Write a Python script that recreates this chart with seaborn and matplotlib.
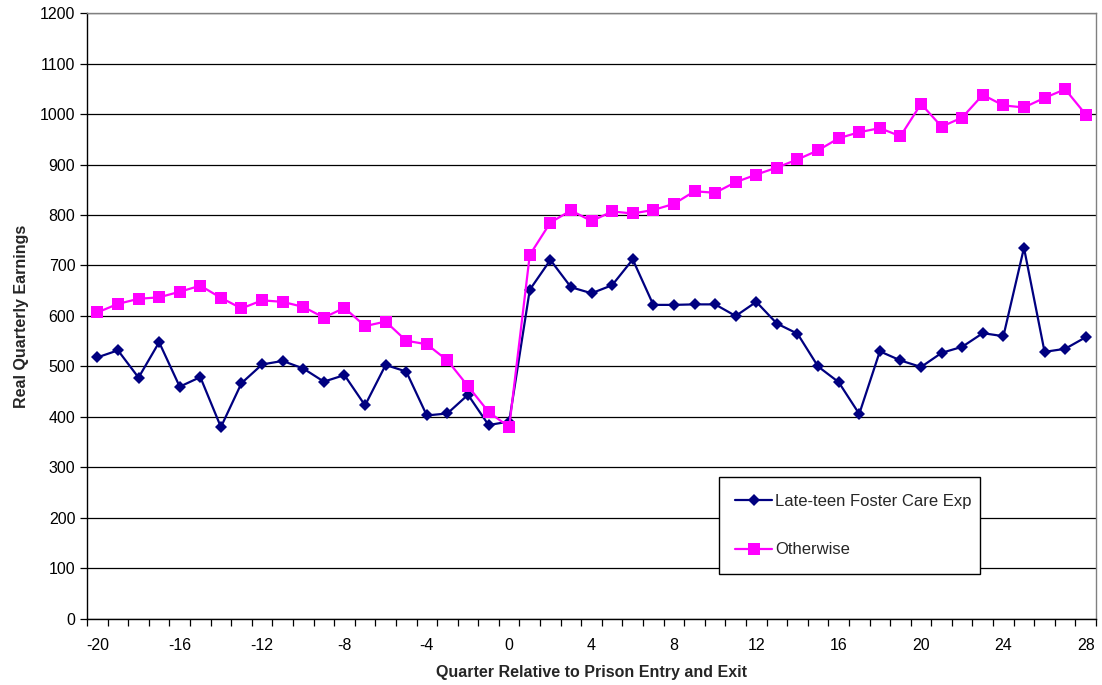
import matplotlib
matplotlib.use("Agg")
import matplotlib.pyplot as plt
import seaborn as sns
import pandas as pd
import numpy as np
from matplotlib.ticker import MultipleLocator, FixedLocator

quarters = list(range(-20, 29))

foster_care = [518, 532, 478, 548, 460, 479, 380, 467, 504, 511,
               496, 470, 483, 423, 503, 490, 403, 407, 444, 384,
               391,
               652, 711, 657, 645, 661, 712, 622, 622, 623, 623,
               600, 628, 585, 565, 500, 469, 406, 530, 512, 499,
               527, 539, 566, 560, 735, 529, 535, 558]

otherwise = [607, 624, 634, 637, 648, 660, 636, 615, 631, 628,
             618, 597, 616, 580, 589, 551, 544, 512, 461, 410,
             380,
             721, 785, 809, 788, 807, 803, 810, 822, 847, 844,
             865, 880, 894, 910, 928, 952, 964, 972, 956, 1020,
             975, 993, 1038, 1017, 1013, 1032, 1049, 999]

series_names = ["Late-teen Foster Care Exp", "Otherwise"]

sns.set_theme(style="white")
plt.rcParams["font.family"] = ["Liberation Sans", "DejaVu Sans"]
plt.rcParams["axes.unicode_minus"] = False

df = pd.DataFrame({
    "quarter": quarters * 2,
    "earnings": foster_care + otherwise,
    "group": [series_names[0]] * len(quarters) + [series_names[1]] * len(quarters),
})

fig, ax = plt.subplots(figsize=(11.02, 6.85), dpi=100)
fig.subplots_adjust(left=0.079, right=0.9946, top=0.981, bottom=0.0964)

sns.lineplot(data=df, x="quarter", y="earnings", hue="group", style="group",
             palette={series_names[0]: "#000080", series_names[1]: "#FF00FF"},
             markers={series_names[0]: "D", series_names[1]: "s"},
             dashes=False, linewidth=1.6, markeredgewidth=0,
             ax=ax, zorder=3)
for line in ax.lines:
    if line.get_marker() == "D":
        line.set_markersize(6.5)
    elif line.get_marker() == "s":
        line.set_markersize(8)

ax.set_xlim(-20.5, 28.5)
ax.set_ylim(0, 1200)
ax.yaxis.set_major_locator(MultipleLocator(100))
ax.yaxis.grid(True, color="#000000", linewidth=0.9)
ax.set_axisbelow(True)

ax.xaxis.set_major_locator(FixedLocator(np.arange(-20, 29, 4)))
ax.xaxis.set_minor_locator(FixedLocator(np.arange(-20.5, 29, 1)))
ax.tick_params(axis="x", which="major", length=0, pad=14, labelsize=11.5, colors="black")
ax.tick_params(axis="x", which="minor", length=5, width=0.9, direction="out",
               color="black", bottom=True)
ax.tick_params(axis="y", which="major", length=5, width=0.9, direction="out",
               left=True, labelsize=11.5, colors="black")

for side in ["left", "bottom"]:
    ax.spines[side].set_color("black")
    ax.spines[side].set_linewidth(1.0)
for side in ["top", "right"]:
    ax.spines[side].set_color("#808080")
    ax.spines[side].set_linewidth(1.0)

ax.set_xlabel("Quarter Relative to Prison Entry and Exit", fontsize=11.5,
              fontweight="bold", labelpad=8)
ax.set_ylabel("Real Quarterly Earnings", fontsize=11.5, fontweight="bold", labelpad=8)

leg = ax.legend(loc="lower left", bbox_to_anchor=(0.626, 0.074, 0.259, 0.155),
                mode="expand", fontsize=12, frameon=True, fancybox=False,
                edgecolor="black", framealpha=1, handlelength=2.2,
                handletextpad=0.2, labelspacing=2.0, borderpad=1.0,
                borderaxespad=0, title=None)
leg.get_frame().set_linewidth(1.0)

fig.savefig("out.png", dpi=100)
